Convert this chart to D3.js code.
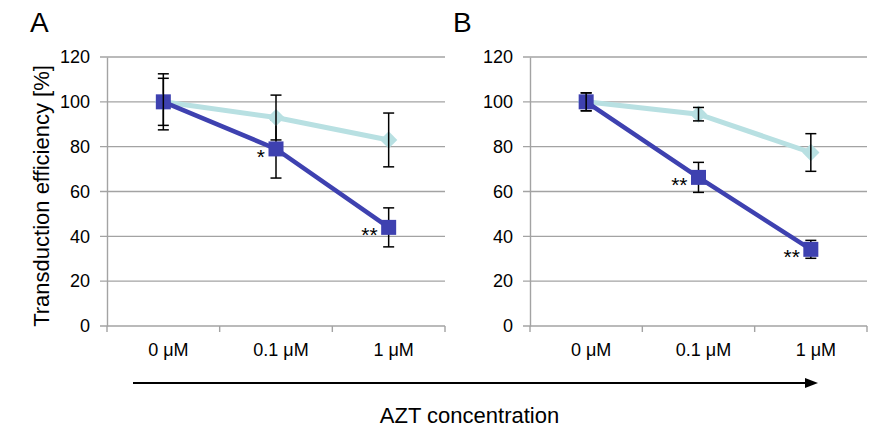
<!DOCTYPE html>
<html><head><meta charset="utf-8">
<script src="https://cdn.jsdelivr.net/npm/d3@7"></script>
<style>
body{margin:0;background:#fff;}
svg{display:block;font-family:"Liberation Sans",Arial,sans-serif;}
</style></head>
<body>
<svg id="c" width="886" height="429"></svg>
<script>
const categories = ["0 μM", "0.1 μM", "1 μM"];
const yTicks = [0, 20, 40, 60, 80, 100, 120];
// Panel A
const lightA = [100, 93, 83];
const lightErrA = [12.5, 10, 12];
const darkA = [100, 79, 44];
const darkErrA = [10.5, 13, 8.7];
const starsA = ["", "*", "**"];
// Panel B
const lightB = [100, 94.5, 77.4];
const lightErrB = [4, 3, 8.4];
const darkB = [100, 66.3, 34.2];
const darkErrB = [4, 6.7, 4];
const starsB = ["", "**", "**"];
const panelLabels = ["A", "B"];
const yTitle = "Transduction efficiency [%]";
const xTitle = "AZT concentration";

const svg = d3.select("#c");
const DARK = "#3e41b0", LIGHT = "#b8e0e2";

const y = d3.scaleLinear().domain([0, 120]).range([326, 57]);

function panel(x0, x1, light, lightErr, dark, darkErr, stars, label) {
  const g = svg.append("g");
  const x = d3.scaleBand().domain(categories).range([x0, x1]);
  const cx = c => x(c) + x.bandwidth() / 2;

  // gridlines
  g.append("g").selectAll("line").data(yTicks).join("line")
    .attr("x1", x0 - 7).attr("x2", x1).attr("y1", d => y(d)).attr("y2", d => y(d))
    .attr("stroke", "#a3a3a3").attr("stroke-width", 1.4);
  // y axis
  const ya = d3.axisLeft(y).tickValues(yTicks).tickSize(0).tickPadding(17);
  const yg = g.append("g").attr("transform", `translate(${x0},0)`).call(ya);
  yg.select(".domain").attr("stroke", "#a3a3a3").attr("stroke-width", 1.4);
  yg.selectAll("text").attr("font-size", 18).attr("fill", "#000").attr("font-family", "Liberation Sans, Arial, sans-serif");
  // x axis
  const xa = d3.axisBottom(x).tickSize(0).tickPadding(0);
  const xg = g.append("g").attr("transform", `translate(0,${y(0)})`).call(xa);
  xg.select(".domain").remove();
  xg.selectAll("text").attr("font-size", 18).attr("fill", "#000")
    .attr("font-family", "Liberation Sans, Arial, sans-serif")
    .attr("dy", 0).attr("y", 30).attr("dx", 5);
  // x tick marks at band edges
  const edges = categories.map(c => x(c)).concat([x1]);
  g.append("g").selectAll("line").data(edges).join("line")
    .attr("x1", d => d).attr("x2", d => d).attr("y1", y(0)).attr("y2", y(0) + 6)
    .attr("stroke", "#a3a3a3").attr("stroke-width", 1.4);

  const line = d3.line().x((d, i) => cx(categories[i])).y(d => y(d));

  function errBars(vals, errs) {
    const eg = g.append("g").attr("stroke", "#000").attr("stroke-width", 1.5);
    vals.forEach((v, i) => {
      const X = cx(categories[i]);
      eg.append("line").attr("x1", X).attr("x2", X).attr("y1", y(v + errs[i])).attr("y2", y(v - errs[i]));
      [v + errs[i], v - errs[i]].forEach(e =>
        eg.append("line").attr("x1", X - 5.5).attr("x2", X + 5.5).attr("y1", y(e)).attr("y2", y(e)));
    });
  }

  errBars(dark, darkErr);
  // light series
  g.append("path").datum(light).attr("d", line).attr("fill", "none")
    .attr("stroke", LIGHT).attr("stroke-width", 5);
  g.append("g").selectAll("path").data(light).join("path")
    .attr("d", d3.symbol(d3.symbolDiamond2, 190)())
    .attr("transform", (d, i) => `translate(${cx(categories[i])},${y(d)})`)
    .attr("fill", LIGHT);
  // dark series
  g.append("path").datum(dark).attr("d", line).attr("fill", "none")
    .attr("stroke", DARK).attr("stroke-width", 4.5);
  g.append("g").selectAll("rect").data(dark).join("rect")
    .attr("x", (d, i) => cx(categories[i]) - 7.5).attr("y", d => y(d) - 7.5)
    .attr("width", 15).attr("height", 15).attr("fill", DARK);
  errBars(light, lightErr);

  // significance stars
  g.append("g").selectAll("text").data(stars).join("text")
    .attr("x", (d, i) => cx(categories[i]) - 11)
    .attr("y", (d, i) => y(dark[i]) + 15)
    .attr("text-anchor", "end").attr("font-size", 21).attr("fill", "#000")
    .text(d => d);

  // panel label
  g.append("text").attr("x", x0 - 77).attr("y", 32).attr("font-size", 28).attr("fill", "#000").text(label);
}

panel(107, 445, lightA, lightErrA, darkA, darkErrA, starsA, panelLabels[0]);
panel(530, 867, lightB, lightErrB, darkB, darkErrB, starsB, panelLabels[1]);

// y title
svg.append("text").attr("transform", "translate(49,196) rotate(-90)")
  .attr("text-anchor", "middle").attr("font-size", 22).attr("fill", "#000").text(yTitle);

// arrow
svg.append("line").attr("x1", 133).attr("x2", 806).attr("y1", 383).attr("y2", 383)
  .attr("stroke", "#000").attr("stroke-width", 1.8);
svg.append("path").attr("d", "M805,378 L818,383 L805,388 Z").attr("fill", "#000");

// x title
svg.append("text").attr("x", 469.5).attr("y", 423).attr("text-anchor", "middle")
  .attr("font-size", 22).attr("fill", "#000").text(xTitle);
</script>
</body></html>
